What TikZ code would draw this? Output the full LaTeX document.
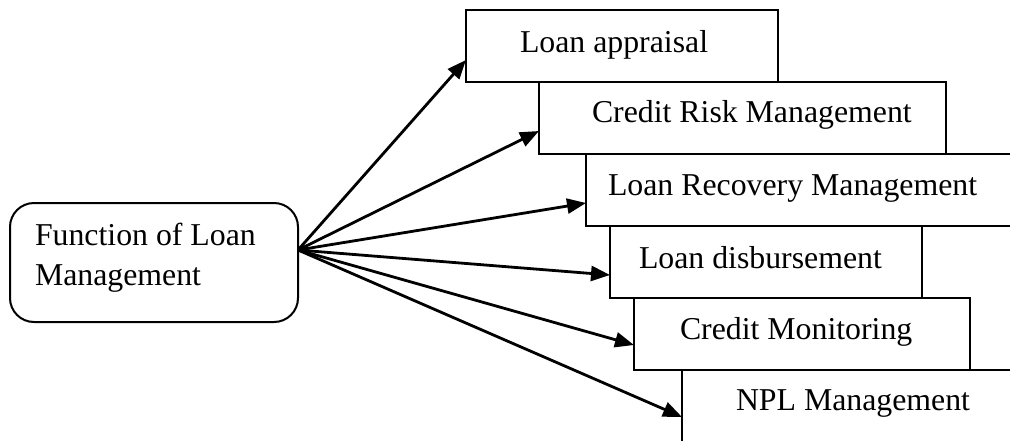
\documentclass[tikz,border=0pt]{standalone}
\usepackage{fontspec}
\setmainfont{Liberation Serif}
\usetikzlibrary{arrows.meta}
\begin{document}
\begin{tikzpicture}[x=1pt,y=-1pt,
  every node/.style={inner sep=0pt, outer sep=0pt},
  box/.style={draw, line width=2pt, fill=white},
  lbl/.style={anchor=base west, font=\fontsize{31.8}{40}\selectfont},
  arr/.style={line width=2.8pt, -{Triangle[length=19pt,width=15pt]}}]
\useasboundingbox (0,0) rectangle (1010,440);
\clip (0,0) rectangle (1010,440);
% boxes
\node[box, minimum width=312pt, minimum height=72pt] (lap) at (622,46) {};
\node[box, minimum width=407pt, minimum height=72pt] (crm) at (742.5,118) {};
\node[box, minimum width=474pt, minimum height=72pt] (lrm) at (823,190) {};
\node[box, minimum width=312pt, minimum height=72pt] (ld) at (766,262) {};
\node[box, minimum width=336pt, minimum height=72pt] (cm) at (802,334) {};
\node[box, minimum width=378pt, minimum height=72pt] (npl) at (871,406) {};
\node[box, rounded corners=24pt, minimum width=288pt, minimum height=119pt] (src) at (154,262.5) {};
% texts
\node[lbl] (lapT) at (520,52) {Loan appraisal};
\node[lbl] (crmT) at (592,122) {Credit Risk Management};
\node[lbl] (lrmT) at (608,195) {Loan Recovery Management};
\node[lbl] (ldT) at (639,268) {Loan disbursement};
\node[lbl] (cmT) at (680,339) {Credit Monitoring};
\node[lbl] (nplT) at (736,410) {NPL Management};
\node[lbl] (srcT1) at (35,245) {Function of Loan};
\node[lbl] (srcT2) at (35,285) {Management};
% connectors
\coordinate (o) at ([yshift=12.5pt]src.east);
\draw[arr] (o) -- ([yshift=-14pt]lap.west);
\draw[arr] (o) -- ([yshift=-13pt]crm.west);
\draw[arr] (o) -- ([yshift=-13pt]lrm.west);
\draw[arr] (o) -- ([yshift=-13pt]ld.west);
\draw[arr] (o) -- ([yshift=-11pt]cm.west);
\draw[arr] (o) -- ([yshift=-11pt]npl.west);
\end{tikzpicture}
\end{document}
